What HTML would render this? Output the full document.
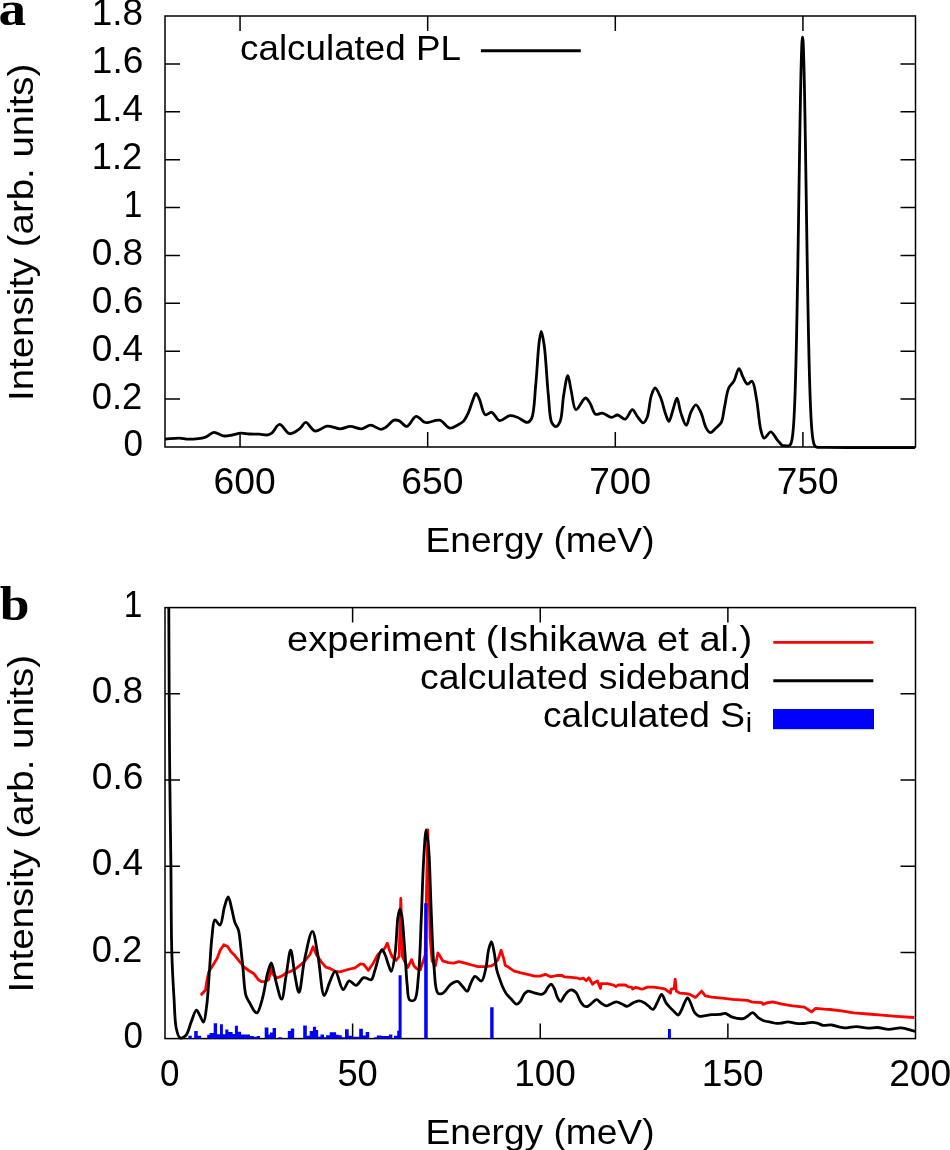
<!DOCTYPE html>
<html><head><meta charset="utf-8"><style>
html,body{margin:0;padding:0;background:#fff;}
svg{display:block;will-change:transform;}
text{font-family:"Liberation Sans",sans-serif;fill:#000;font-kerning:none;}
.serif{font-family:"Liberation Serif",serif;font-weight:bold;}
</style></head><body>
<svg width="950" height="1150" viewBox="0 0 950 1150">
<rect width="950" height="1150" fill="#fff"/>
<rect x="165.0" y="16.0" width="750.50" height="431.0" fill="none" stroke="#000" stroke-width="1.5"/>
<path d="M165.0,399.11h15.0M915.5,399.11h-15.0M165.0,351.22h15.0M915.5,351.22h-15.0M165.0,303.33h15.0M915.5,303.33h-15.0M165.0,255.44h15.0M915.5,255.44h-15.0M165.0,207.56h15.0M915.5,207.56h-15.0M165.0,159.67h15.0M915.5,159.67h-15.0M165.0,111.78h15.0M915.5,111.78h-15.0M165.0,63.89h15.0M915.5,63.89h-15.0M240.05,447.0v-15.0M240.05,16.0v15.0M427.68,447.0v-15.0M427.68,16.0v15.0M615.30,447.0v-15.0M615.30,16.0v15.0M802.92,447.0v-15.0M802.92,16.0v15.0" stroke="#000" stroke-width="1.5" fill="none"/>
<rect x="165.0" y="607.6" width="750.50" height="430.9999999999999" fill="none" stroke="#000" stroke-width="1.5"/>
<path d="M165.0,952.40h15.0M915.5,952.40h-15.0M165.0,866.20h15.0M915.5,866.20h-15.0M165.0,780.00h15.0M915.5,780.00h-15.0M165.0,693.80h15.0M915.5,693.80h-15.0M352.62,1038.6v-15.0M352.62,607.6v15.0M540.25,1038.6v-15.0M540.25,607.6v15.0M727.88,1038.6v-15.0M727.88,607.6v15.0" stroke="#000" stroke-width="1.5" fill="none"/>
<clipPath id="ca"><rect x="165.0" y="16.0" width="750.5" height="434.0"/></clipPath>
<path clip-path="url(#ca)" d="M163,439.2 L165.05,439.10 C169.83,438.77 175.15,437.99 179.40,438.10 C182.81,438.18 185.07,439.21 188.60,439.20 C193.38,439.19 200.96,438.61 205.50,437.10 C208.92,435.96 210.97,432.52 213.90,432.30 C216.87,432.08 220.06,435.47 223.20,435.90 C226.23,436.31 229.42,435.46 232.40,435.00 C235.28,434.55 237.98,433.37 240.80,433.20 C243.61,433.03 246.34,433.83 249.30,434.00 C252.52,434.18 256.19,434.03 259.40,434.20 C262.33,434.35 265.53,435.34 267.80,434.90 C269.49,434.57 270.51,433.93 272.00,432.80 C274.32,431.04 276.82,424.53 279.60,424.40 C282.66,424.26 286.15,433.21 289.70,433.70 C292.92,434.15 297.02,430.66 299.80,428.60 C302.21,426.81 303.46,422.48 305.70,422.40 C308.43,422.31 311.58,430.39 315.10,431.00 C318.61,431.61 323.65,426.51 326.80,426.10 C328.81,425.84 330.00,426.43 331.90,426.80 C334.36,427.28 337.37,428.90 340.30,428.90 C343.51,428.90 346.96,426.43 350.40,426.40 C353.98,426.37 357.94,429.19 361.40,428.90 C364.65,428.63 367.46,425.10 370.60,425.10 C373.89,425.10 377.90,429.27 380.70,429.30 C382.68,429.32 383.99,428.38 385.80,427.30 C388.37,425.77 391.59,420.96 394.20,420.20 C395.99,419.68 397.53,420.18 399.30,420.90 C401.68,421.86 404.28,426.65 406.80,426.40 C409.87,426.10 412.93,416.64 416.10,416.30 C418.84,416.00 422.23,421.37 424.50,422.20 C425.81,422.68 426.43,422.58 427.90,422.50 C430.65,422.36 436.10,419.34 439.70,420.20 C443.42,421.09 446.45,427.63 449.80,428.10 C452.61,428.50 455.80,425.95 458.20,424.70 C460.17,423.68 461.77,423.01 463.30,421.40 C465.28,419.32 466.91,415.82 468.40,412.60 C470.06,409.02 471.20,404.26 472.60,400.80 C473.73,397.99 474.81,393.36 476.00,393.30 C477.08,393.25 478.22,396.71 479.40,399.20 C481.25,403.09 482.51,413.44 485.30,414.70 C487.09,415.51 489.61,411.81 491.70,412.30 C494.41,412.93 496.58,420.16 499.60,420.70 C502.59,421.24 506.51,416.10 509.70,415.70 C512.35,415.36 514.65,416.37 517.30,417.30 C520.50,418.42 524.85,422.76 527.40,422.40 C529.21,422.14 530.44,420.77 531.60,418.50 C534.46,412.90 534.58,396.08 535.80,384.00 C537.15,370.68 537.89,351.19 539.20,341.90 C539.86,337.24 540.54,331.50 541.30,331.50 C542.18,331.50 543.31,339.22 544.20,345.30 C545.88,356.82 546.91,381.61 548.40,395.80 C549.49,406.18 549.36,417.94 551.80,422.70 C552.92,424.89 554.66,426.71 556.00,426.60 C557.47,426.47 559.08,423.81 560.20,421.10 C562.36,415.90 562.24,403.74 563.60,395.80 C564.82,388.67 566.45,375.61 567.80,375.60 C568.97,375.59 569.94,385.39 571.20,390.70 C572.61,396.65 573.23,408.99 575.90,409.60 C578.25,410.13 582.92,398.08 585.50,398.00 C587.15,397.95 588.32,400.52 589.70,402.50 C591.72,405.40 592.97,412.98 595.60,414.30 C597.49,415.25 599.93,412.81 602.30,413.10 C605.20,413.46 608.82,417.22 611.60,417.30 C613.80,417.36 615.52,414.86 617.60,415.00 C620.02,415.17 622.89,419.69 625.20,419.20 C627.91,418.62 630.29,409.58 632.40,409.60 C634.09,409.61 635.22,413.71 636.90,415.80 C638.77,418.13 641.40,422.99 643.20,422.90 C644.71,422.82 645.99,420.07 647.10,417.50 C649.13,412.79 649.50,400.92 651.30,395.60 C652.41,392.31 653.68,388.04 655.10,388.00 C656.70,387.95 658.91,393.64 660.50,397.30 C662.54,401.98 663.94,409.71 665.60,414.10 C666.72,417.05 667.79,421.35 668.90,421.30 C670.32,421.23 671.81,412.98 673.20,409.00 C674.51,405.26 675.82,398.05 677.00,398.10 C678.34,398.16 679.13,407.81 680.70,412.40 C682.24,416.90 684.61,425.46 686.30,425.40 C687.97,425.34 688.98,416.06 690.80,412.40 C692.29,409.42 694.21,404.79 695.90,404.80 C697.58,404.81 699.40,409.32 700.90,412.40 C702.89,416.50 704.00,424.03 706.00,427.60 C707.28,429.88 708.59,432.44 710.20,432.60 C711.93,432.77 714.26,429.59 716.10,427.90 C717.93,426.22 719.88,424.99 721.20,422.50 C723.10,418.91 723.34,412.75 724.50,407.40 C725.82,401.34 726.57,392.63 728.70,388.00 C730.09,384.99 732.25,384.01 733.80,381.30 C735.78,377.84 737.33,368.64 739.00,368.60 C740.38,368.56 741.56,374.44 743.00,377.10 C744.34,379.59 745.60,383.68 747.30,384.10 C748.69,384.44 750.70,380.76 752.00,381.30 C754.37,382.28 755.18,392.19 756.50,398.90 C758.21,407.62 758.89,422.25 760.70,429.30 C761.71,433.23 762.39,437.81 764.10,438.20 C765.80,438.59 768.80,431.64 770.90,431.80 C773.03,431.97 774.91,437.11 776.80,439.40 C778.43,441.38 780.74,443.87 781.50,444.80 C781.76,445.12 781.81,445.34 782.00,445.45 C782.15,445.53 782.33,445.48 782.50,445.50 C782.67,445.52 782.83,445.53 783.00,445.55 C783.17,445.57 783.33,445.58 783.50,445.60 C783.67,445.62 783.83,445.63 784.00,445.65 C784.17,445.66 784.33,445.68 784.50,445.70 C784.67,445.71 784.83,445.73 785.00,445.74 C785.17,445.76 785.33,445.78 785.50,445.79 C785.67,445.80 785.83,445.82 786.00,445.83 C786.17,445.84 786.33,445.86 786.50,445.87 C786.67,445.88 786.83,445.89 787.00,445.89 C787.17,445.89 787.33,445.90 787.50,445.90 C787.67,445.89 787.83,445.89 788.00,445.87 C788.17,445.85 788.33,445.83 788.50,445.80 C788.67,445.76 788.84,445.71 789.00,445.65 C789.17,445.58 789.34,445.49 789.50,445.38 C789.67,445.26 789.84,445.12 790.00,444.95 C790.18,444.75 790.34,444.52 790.50,444.26 C790.68,443.95 790.85,443.60 791.00,443.21 C791.18,442.75 791.35,442.22 791.50,441.65 C791.68,440.98 791.85,440.23 792.00,439.41 C792.18,438.45 792.34,437.39 792.50,436.25 C792.68,434.91 792.84,433.45 793.00,431.88 C793.18,430.07 793.34,428.10 793.50,426.00 C793.68,423.59 793.84,420.99 794.00,418.24 C794.18,415.12 794.34,411.76 794.50,408.23 C794.68,404.27 794.84,400.03 795.00,395.60 C795.18,390.68 795.34,385.46 795.50,380.02 C795.68,374.06 795.84,367.76 796.00,361.25 C796.17,354.18 796.34,346.77 796.50,339.15 C796.67,330.98 796.84,322.47 797.00,313.78 C797.17,304.58 797.34,295.05 797.50,285.39 C797.67,275.30 797.84,264.92 798.00,254.47 C798.17,243.72 798.33,232.73 798.50,221.77 C798.67,210.67 798.83,199.40 799.00,188.27 C799.17,177.20 799.33,166.05 799.50,155.16 C799.66,144.56 799.83,133.96 800.00,123.76 C800.16,114.09 800.33,104.50 800.50,95.47 C800.66,87.18 800.82,79.03 801.00,71.61 C801.16,65.13 801.31,58.79 801.50,53.39 C801.65,49.06 801.77,44.68 802.00,41.71 C802.14,39.86 802.31,37.24 802.50,37.24 C802.65,37.23 802.86,38.92 803.00,40.22 C803.26,42.62 803.35,46.64 803.50,50.50 C803.69,55.46 803.84,61.43 804.00,67.52 C804.18,74.58 804.34,82.41 804.50,90.39 C804.68,99.15 804.84,108.50 805.00,117.95 C805.17,127.97 805.34,138.42 805.50,148.89 C805.67,159.69 805.83,170.79 806.00,181.82 C806.17,192.95 806.33,204.25 806.50,215.39 C806.67,226.43 806.83,237.52 807.00,248.38 C807.16,258.98 807.33,269.52 807.50,279.77 C807.66,289.63 807.83,299.36 808.00,308.77 C808.16,317.69 808.33,326.43 808.50,334.82 C808.66,342.68 808.83,350.33 809.00,357.63 C809.16,364.39 809.33,370.92 809.50,377.12 C809.66,382.78 809.82,388.23 810.00,393.37 C810.16,398.01 810.32,402.45 810.50,406.62 C810.66,410.33 810.82,413.87 811.00,417.17 C811.16,420.08 811.32,422.84 811.50,425.40 C811.66,427.63 811.82,429.74 812.00,431.68 C812.16,433.36 812.32,434.93 812.50,436.37 C812.66,437.60 812.82,438.75 813.00,439.80 C813.16,440.69 813.32,441.51 813.50,442.26 C813.65,442.89 813.82,443.47 814.00,443.98 C814.15,444.42 814.32,444.82 814.50,445.17 C814.66,445.47 814.82,445.74 815.00,445.97 C815.16,446.18 815.32,446.35 815.50,446.50 C815.66,446.64 815.83,446.75 816.00,446.85 C816.16,446.94 816.33,447.00 816.50,447.06 C816.66,447.12 816.83,447.16 817.00,447.20 C817.17,447.24 817.33,447.26 817.50,447.28 C817.67,447.31 817.83,447.32 818.00,447.33 C818.17,447.35 818.33,447.35 818.50,447.36 C818.67,447.37 818.83,447.37 819.00,447.38 C819.17,447.38 819.33,447.39 819.50,447.39 C819.67,447.39 819.83,447.39 820.00,447.39 C820.17,447.40 820.33,447.40 820.50,447.40 C820.67,447.40 820.83,447.40 821.00,447.40 C821.17,447.40 821.33,447.40 821.50,447.40 C821.67,447.40 821.83,447.40 822.00,447.40 C822.17,447.40 822.33,447.40 822.50,447.40 C822.67,447.40 822.83,447.40 823.00,447.40 C823.17,447.40 823.33,447.40 823.50,447.40 C823.67,447.40 823.70,447.40 824.00,447.40 C826.53,447.41 846.76,447.56 860.00,447.60 C876.29,447.65 896.33,447.60 914.50,447.60" fill="none" stroke="#000" stroke-width="2.8" stroke-linejoin="round" stroke-linecap="round"/>
<path d="M200.80,995.30 L205.50,990.00 L206.60,982.60 L208.70,972.10 L212.90,965.30 L217.10,958.40 L220.30,950.00 L223.90,944.70 L227.60,946.60 L230.80,951.60 L235.00,955.80 L239.20,961.10 L244.50,967.40 L248.70,970.50 L253.90,973.70 L258.20,979.50 L261.30,981.60 L265.50,981.60 L268.70,979.50 L270.60,971.10 L271.50,965.00 L272.90,974.20 L277.10,977.90 L281.30,976.30 L286.60,972.60 L290.80,971.30 L295.80,968.70 L303.70,962.40 L310.00,954.50 L313.10,946.80 L316.30,954.50 L321.10,961.60 L325.80,967.10 L330.50,968.70 L335.30,971.40 L340.00,971.80 L347.90,969.50 L355.00,967.90 L360.50,963.90 L363.70,964.40 L368.40,970.30 L373.20,963.20 L377.90,954.50 L382.60,950.20 L385.00,947.90 L387.30,943.20 L389.70,951.00 L392.40,957.30 L396.00,960.40 L399.10,956.50 L400.80,898.50 L402.40,956.50 L403.80,959.60 L407.70,967.50 L411.60,959.60 L414.00,965.90 L417.10,969.00 L420.30,969.70 L425.20,955.00 L427.80,829.80 L430.10,937.40 L432.10,960.90 L435.40,965.80 L437.90,953.00 L440.00,956.10 L442.60,960.80 L448.40,962.70 L453.70,963.10 L458.90,961.60 L465.30,963.10 L471.60,965.00 L477.90,966.60 L484.20,966.60 L491.60,965.80 L494.70,963.90 L497.90,959.70 L501.10,950.30 L503.70,958.70 L505.30,965.50 L508.40,967.10 L513.70,970.80 L520.00,972.60 L527.40,974.30 L534.70,976.10 L540.00,976.10 L545.30,974.30 L550.50,976.80 L556.80,975.50 L562.10,975.50 L564.20,976.80 L571.60,977.40 L577.90,978.20 L580.00,979.00 L583.20,978.20 L586.30,980.60 L588.90,977.80 L592.60,984.30 L594.20,982.70 L597.40,981.00 L600.50,988.40 L601.10,983.70 L607.40,983.70 L613.70,985.20 L615.80,986.60 L618.40,984.80 L625.30,985.00 L628.40,986.90 L631.60,987.10 L632.60,989.00 L635.80,987.30 L640.00,988.70 L642.10,989.20 L647.40,987.10 L653.70,987.10 L658.90,987.90 L664.70,988.90 L670.50,993.20 L671.10,989.20 L674.10,988.70 L675.20,979.20 L676.30,991.10 L680.00,993.20 L686.30,993.70 L690.50,994.70 L695.60,997.40 L701.60,991.10 L705.30,995.80 L711.60,997.20 L722.10,998.20 L732.60,999.30 L740.00,999.90 L747.40,1000.40 L752.60,1002.20 L761.90,1002.60 L763.20,1004.40 L766.30,1003.00 L772.60,1001.90 L782.10,1004.20 L792.60,1005.80 L804.40,1007.10 L811.50,1011.90 L815.70,1008.40 L824.20,1009.20 L830.00,1009.50 L841.40,1010.90 L853.70,1012.80 L867.90,1014.00 L882.10,1015.20 L896.30,1016.30 L914.30,1017.50" fill="none" stroke="#ff0000" stroke-width="2.8" stroke-linejoin="round"/>
<clipPath id="cb"><rect x="165.0" y="607.6" width="750.5" height="433.9999999999999"/></clipPath>
<path clip-path="url(#cb)" d="M168.7,600 L168.8,607.6 C168.93,638.40 169.02,670.31 169.20,700.00 C169.36,727.63 169.52,752.85 169.80,780.00 C170.09,808.15 170.57,837.33 170.90,866.00 C171.23,894.67 171.09,927.79 171.80,952.00 C172.32,969.72 173.13,984.18 174.00,998.00 C174.71,1009.36 174.69,1021.88 176.40,1029.00 C177.35,1032.96 178.23,1037.17 180.10,1037.90 C181.64,1038.50 184.35,1036.94 186.00,1035.20 C188.44,1032.62 189.42,1026.18 191.20,1021.90 C192.89,1017.83 194.70,1010.22 196.40,1010.10 C197.65,1010.01 198.92,1013.99 200.10,1016.00 C201.29,1018.02 202.54,1022.35 203.50,1022.20 C204.98,1021.97 205.81,1012.14 206.70,1005.60 C207.96,996.31 208.53,982.93 209.40,971.60 C210.27,960.27 210.75,947.08 211.90,937.60 C212.73,930.72 212.88,920.53 214.90,919.90 C216.19,919.50 218.60,925.49 220.00,925.10 C222.27,924.47 222.90,911.72 224.50,906.60 C225.68,902.84 227.03,896.95 228.20,897.00 C229.52,897.05 230.80,905.39 231.90,909.60 C232.99,913.76 233.56,918.42 234.80,922.10 C235.84,925.18 237.56,927.02 238.50,930.30 C239.77,934.72 240.00,940.67 240.70,946.50 C241.52,953.31 242.18,960.97 243.00,968.70 C243.90,977.17 244.13,989.28 245.90,995.30 C246.88,998.65 248.22,1000.14 249.60,1002.70 C251.15,1005.55 253.21,1010.03 254.80,1011.60 C255.60,1012.39 256.34,1013.18 257.10,1012.90 C258.97,1012.21 260.99,1003.59 262.60,997.90 C264.62,990.75 265.81,979.63 267.60,973.20 C268.78,968.94 270.08,962.74 271.30,962.80 C272.93,962.88 274.33,975.89 276.10,982.10 C277.78,988.00 280.00,999.30 281.60,999.20 C283.50,999.08 284.77,982.45 286.30,974.20 C287.80,966.12 289.27,950.19 290.70,950.20 C292.17,950.21 293.45,968.21 295.00,975.80 C296.26,981.95 297.67,992.45 299.00,992.40 C300.84,992.34 302.19,970.42 304.50,960.00 C306.70,950.09 310.09,931.25 312.40,931.30 C314.50,931.35 316.15,946.24 317.90,955.30 C320.14,966.95 321.49,995.18 324.20,995.50 C325.82,995.69 327.76,986.27 329.70,982.10 C331.47,978.29 333.35,971.33 335.30,971.40 C337.80,971.49 340.51,989.45 343.20,989.70 C345.17,989.88 346.87,981.27 349.20,980.80 C351.24,980.39 353.84,985.54 356.10,985.30 C358.68,985.03 360.94,978.45 363.70,977.70 C366.06,977.06 369.48,980.62 371.30,979.70 C373.27,978.70 373.42,974.63 374.70,971.10 C376.70,965.59 379.60,950.00 381.80,949.70 C382.91,949.55 384.03,952.51 385.00,954.50 C386.35,957.25 387.33,961.95 388.50,965.00 C389.43,967.42 390.42,971.49 391.30,971.40 C392.75,971.25 394.17,959.88 395.20,952.60 C396.60,942.73 396.69,925.01 397.90,917.40 C398.49,913.68 399.21,909.21 399.90,909.20 C400.52,909.19 401.26,912.94 401.80,915.80 C402.75,920.83 403.18,929.48 403.80,937.00 C404.50,945.52 405.10,955.83 405.70,964.30 C406.22,971.68 406.47,978.67 407.20,985.00 C407.83,990.42 407.48,998.19 409.60,1000.00 C410.81,1001.03 413.19,1001.11 414.50,1000.00 C417.38,997.56 417.37,986.13 418.40,976.50 C420.02,961.37 420.42,937.37 421.30,917.80 C422.18,898.24 422.68,875.29 423.70,859.10 C424.42,847.64 425.26,829.82 426.20,829.80 C426.96,829.78 428.00,841.03 428.70,849.30 C429.91,863.59 430.22,888.44 431.10,908.00 C431.98,927.57 432.46,951.00 434.00,966.70 C435.04,977.30 434.84,990.55 437.90,993.20 C439.21,994.33 441.14,993.94 442.80,993.20 C445.38,992.04 447.93,986.29 450.70,984.30 C452.88,982.73 455.53,981.02 457.50,981.40 C459.41,981.77 460.77,984.67 462.40,986.30 C464.03,987.93 465.97,991.45 467.30,991.20 C468.71,990.94 469.26,986.40 470.50,984.00 C471.81,981.46 473.10,976.81 475.00,976.40 C476.81,976.01 479.78,981.57 481.50,981.00 C483.82,980.23 484.85,972.08 486.00,967.20 C487.25,961.90 487.39,954.97 488.50,950.30 C489.32,946.88 490.48,941.56 491.40,941.60 C492.47,941.64 493.54,949.34 494.40,953.70 C495.39,958.71 495.75,965.49 496.80,970.00 C497.57,973.30 498.54,975.61 499.50,978.40 C500.47,981.21 501.42,984.18 502.60,986.80 C503.70,989.25 504.84,991.64 506.30,993.70 C507.69,995.65 509.40,997.19 511.10,998.90 C512.89,1000.69 515.09,1004.16 516.80,1004.20 C518.15,1004.23 519.38,1002.47 520.50,1001.10 C521.92,999.35 522.78,995.95 524.20,994.20 C525.32,992.83 526.40,991.42 527.90,991.10 C529.64,990.73 532.00,992.36 534.20,992.90 C536.56,993.47 539.71,994.71 541.60,994.40 C542.91,994.19 543.76,993.52 544.70,992.60 C545.93,991.40 546.74,988.87 547.90,987.40 C548.90,986.14 550.08,984.12 551.10,984.20 C552.19,984.28 553.27,986.65 554.20,988.40 C555.46,990.76 556.13,995.08 557.40,997.40 C558.33,999.09 559.41,1001.43 560.50,1001.40 C561.82,1001.36 563.29,997.11 564.70,995.30 C565.93,993.73 567.03,991.98 568.40,991.10 C569.54,990.37 570.87,989.81 572.10,990.00 C573.51,990.22 575.06,991.45 576.30,992.90 C578.00,994.89 578.92,999.23 580.50,1001.60 C581.78,1003.51 583.21,1005.68 584.70,1006.30 C585.81,1006.76 587.08,1006.54 588.20,1006.10 C589.53,1005.58 590.66,1004.03 592.00,1003.00 C593.44,1001.89 595.09,999.68 596.60,999.70 C598.09,999.72 599.44,1001.99 601.00,1003.00 C602.60,1004.03 604.39,1005.67 606.10,1005.80 C607.72,1005.92 609.32,1004.64 611.00,1004.00 C612.81,1003.31 614.75,1001.79 616.60,1001.80 C618.42,1001.81 620.23,1003.24 622.00,1004.00 C623.73,1004.74 625.36,1006.38 627.10,1006.30 C629.02,1006.22 631.02,1003.93 633.00,1003.00 C634.89,1002.11 636.83,1000.87 638.70,1000.80 C640.46,1000.74 642.29,1001.56 643.90,1002.40 C645.57,1003.27 646.98,1004.82 648.50,1006.00 C649.98,1007.15 651.54,1009.65 652.90,1009.40 C654.63,1009.09 656.13,1004.33 657.60,1001.80 C659.02,999.36 660.23,994.49 661.60,994.50 C663.06,994.51 664.63,1000.72 666.10,1002.90 C667.15,1004.45 668.06,1005.35 669.20,1006.60 C670.47,1007.98 671.93,1009.42 673.40,1010.80 C674.92,1012.23 676.84,1015.18 678.20,1015.00 C679.52,1014.82 680.55,1011.79 681.50,1010.00 C682.49,1008.13 683.01,1005.97 684.00,1004.00 C685.03,1001.94 686.46,997.91 687.60,997.90 C688.61,997.89 689.52,1000.70 690.50,1002.60 C691.87,1005.27 692.88,1010.23 694.70,1012.60 C696.06,1014.37 697.81,1015.82 699.50,1016.30 C700.99,1016.72 702.46,1016.02 704.20,1015.80 C706.39,1015.52 709.05,1014.93 711.60,1014.70 C714.30,1014.45 717.53,1014.68 720.00,1014.40 C721.98,1014.18 723.51,1013.12 725.30,1013.40 C727.37,1013.72 729.10,1015.96 731.60,1016.80 C734.81,1017.88 740.36,1019.10 743.20,1018.60 C745.02,1018.28 745.95,1017.21 747.40,1016.30 C749.07,1015.25 750.90,1012.50 752.60,1012.60 C754.40,1012.71 756.06,1016.05 757.90,1017.40 C759.60,1018.65 761.16,1019.69 763.20,1020.50 C765.62,1021.45 769.13,1021.88 771.60,1022.40 C773.54,1022.81 775.14,1023.30 776.80,1023.40 C778.30,1023.49 779.52,1023.31 781.10,1023.10 C783.09,1022.84 785.44,1021.80 787.80,1021.80 C790.44,1021.80 793.46,1023.12 796.20,1023.40 C798.79,1023.66 801.21,1023.67 803.80,1023.50 C806.54,1023.32 809.75,1022.28 812.20,1022.30 C814.11,1022.31 815.56,1022.63 817.30,1023.10 C819.22,1023.62 821.02,1025.04 823.20,1025.40 C825.71,1025.81 828.82,1024.72 831.60,1025.00 C834.42,1025.28 837.67,1026.59 840.00,1027.10 C841.63,1027.46 842.43,1027.82 844.20,1027.90 C847.22,1028.04 852.48,1026.63 856.50,1026.70 C860.38,1026.77 864.27,1028.10 867.90,1028.20 C871.21,1028.29 874.11,1027.35 877.40,1027.50 C881.01,1027.67 884.85,1029.31 888.70,1029.40 C892.71,1029.49 896.84,1027.66 901.00,1027.90 C905.37,1028.15 909.87,1030.03 914.30,1031.10" fill="none" stroke="#000" stroke-width="2.8" stroke-linejoin="round" stroke-linecap="round"/>
<path d="M188.40,1038.6V1035.80H191.80V1038.6ZM194.20,1038.6V1031.10H197.70V1038.6ZM197.70,1038.6V1035.80H201.10V1038.6ZM207.20,1038.6V1034.70H209.50V1038.6ZM209.50,1038.6V1033.00H213.70V1038.6ZM213.70,1038.6V1023.20H217.10V1038.6ZM217.10,1038.6V1034.20H220.00V1038.6ZM220.00,1038.6V1024.20H222.90V1038.6ZM222.90,1038.6V1034.20H225.30V1038.6ZM225.30,1038.6V1029.50H228.40V1038.6ZM228.40,1038.6V1032.10H232.60V1038.6ZM232.60,1038.6V1034.00H234.90V1038.6ZM234.90,1038.6V1025.80H237.90V1038.6ZM237.90,1038.6V1031.80H241.10V1038.6ZM241.10,1038.6V1034.40H250.00V1038.6ZM250.00,1038.6V1036.10H253.70V1038.6ZM253.70,1038.6V1036.80H256.80V1038.6ZM256.80,1038.6V1036.10H260.00V1038.6ZM264.70,1038.6V1027.40H268.40V1038.6ZM268.40,1038.6V1034.40H270.00V1038.6ZM270.00,1038.6V1032.60H272.60V1038.6ZM272.60,1038.6V1028.10H276.00V1038.6ZM278.20,1038.6V1037.20H281.80V1038.6ZM287.80,1038.6V1031.10H290.80V1038.6ZM290.80,1038.6V1028.40H294.20V1038.6ZM303.20,1038.6V1025.60H306.80V1038.6ZM306.80,1038.6V1035.80H309.70V1038.6ZM309.70,1038.6V1031.10H312.90V1038.6ZM312.90,1038.6V1026.80H316.10V1038.6ZM316.10,1038.6V1030.00H318.20V1038.6ZM318.20,1038.6V1036.80H320.50V1038.6ZM320.50,1038.6V1034.40H324.00V1038.6ZM324.00,1038.6V1037.20H326.10V1038.6ZM326.10,1038.6V1035.30H329.70V1038.6ZM329.70,1038.6V1032.30H336.10V1038.6ZM336.10,1038.6V1034.70H338.70V1038.6ZM338.70,1038.6V1035.30H341.80V1038.6ZM341.80,1038.6V1037.20H345.00V1038.6ZM345.00,1038.6V1029.30H348.70V1038.6ZM348.70,1038.6V1035.80H352.40V1038.6ZM352.40,1038.6V1036.80H359.20V1038.6ZM359.20,1038.6V1028.70H362.90V1038.6ZM362.90,1038.6V1035.60H365.70V1038.6ZM365.70,1038.6V1032.10H369.20V1038.6ZM374.20,1038.6V1037.20H376.80V1038.6ZM376.80,1038.6V1035.60H381.60V1038.6ZM381.60,1038.6V1036.10H388.90V1038.6ZM388.90,1038.6V1034.40H392.30V1038.6ZM394.00,1038.6V1035.80H397.20V1038.6ZM397.20,1038.6V1030.80H398.60V1038.6ZM398.60,1038.6V975.20H401.60V1038.6ZM424.20,1038.6V903.20H427.70V1038.6ZM490.20,1038.6V1007.20H493.60V1038.6ZM668.00,1038.6V1028.90H670.90V1038.6Z" fill="#0000ff"/>
<path d="M480.9,50.7H580.8" stroke="#000" stroke-width="3"/>
<path d="M773.3,642.3H873.3" stroke="#ff0000" stroke-width="2.8"/>
<path d="M773.3,680.8H873.3" stroke="#000" stroke-width="2.9"/>
<rect x="773" y="709" width="101" height="20.2" fill="#0000ff"/>
<text x="123.50" y="456.40" font-size="36.0" textLength="19.46" lengthAdjust="spacingAndGlyphs">0</text>
<text x="91.77" y="408.51" font-size="36.0" textLength="50.54" lengthAdjust="spacingAndGlyphs">0.2</text>
<text x="91.75" y="360.62" font-size="36.0" textLength="51.27" lengthAdjust="spacingAndGlyphs">0.4</text>
<text x="91.74" y="312.73" font-size="36.0" textLength="51.60" lengthAdjust="spacingAndGlyphs">0.6</text>
<text x="91.75" y="264.84" font-size="36.0" textLength="51.39" lengthAdjust="spacingAndGlyphs">0.8</text>
<text x="123.78" y="216.96" font-size="36.0" textLength="18.59" lengthAdjust="spacingAndGlyphs">1</text>
<text x="91.89" y="169.07" font-size="36.0" textLength="50.41" lengthAdjust="spacingAndGlyphs">1.2</text>
<text x="91.84" y="121.18" font-size="36.0" textLength="51.17" lengthAdjust="spacingAndGlyphs">1.4</text>
<text x="91.83" y="73.29" font-size="36.0" textLength="51.51" lengthAdjust="spacingAndGlyphs">1.6</text>
<text x="91.84" y="25.40" font-size="36.0" textLength="51.30" lengthAdjust="spacingAndGlyphs">1.8</text>
<text x="123.50" y="1047.70" font-size="36.0" textLength="19.46" lengthAdjust="spacingAndGlyphs">0</text>
<text x="91.77" y="961.50" font-size="36.0" textLength="50.54" lengthAdjust="spacingAndGlyphs">0.2</text>
<text x="91.75" y="875.30" font-size="36.0" textLength="51.27" lengthAdjust="spacingAndGlyphs">0.4</text>
<text x="91.74" y="789.10" font-size="36.0" textLength="51.60" lengthAdjust="spacingAndGlyphs">0.6</text>
<text x="91.75" y="702.90" font-size="36.0" textLength="51.39" lengthAdjust="spacingAndGlyphs">0.8</text>
<text x="123.78" y="616.70" font-size="36.0" textLength="18.59" lengthAdjust="spacingAndGlyphs">1</text>
<text x="213.59" y="493.90" font-size="36.0" textLength="62.19" lengthAdjust="spacingAndGlyphs">600</text>
<text x="401.22" y="493.90" font-size="36.0" textLength="62.19" lengthAdjust="spacingAndGlyphs">650</text>
<text x="589.24" y="493.90" font-size="36.0" textLength="61.79" lengthAdjust="spacingAndGlyphs">700</text>
<text x="776.87" y="493.90" font-size="36.0" textLength="61.79" lengthAdjust="spacingAndGlyphs">750</text>
<text x="160.06" y="1085.80" font-size="36.0" textLength="19.46" lengthAdjust="spacingAndGlyphs">0</text>
<text x="337.41" y="1085.80" font-size="36.0" textLength="40.35" lengthAdjust="spacingAndGlyphs">50</text>
<text x="514.19" y="1085.80" font-size="36.0" textLength="61.78" lengthAdjust="spacingAndGlyphs">100</text>
<text x="701.82" y="1085.80" font-size="36.0" textLength="61.78" lengthAdjust="spacingAndGlyphs">150</text>
<text x="889.18" y="1085.80" font-size="36.0" textLength="62.06" lengthAdjust="spacingAndGlyphs">200</text>
<text x="425.56" y="552.40" font-size="35.0" textLength="228.95" lengthAdjust="spacingAndGlyphs">Energy (meV)</text>
<text x="425.56" y="1143.70" font-size="35.0" textLength="228.95" lengthAdjust="spacingAndGlyphs">Energy (meV)</text>
<text x="240.04" y="59.50" font-size="35.0" textLength="220.99" lengthAdjust="spacingAndGlyphs">calculated PL</text>
<text x="287.08" y="650.90" font-size="35.0" textLength="465.18" lengthAdjust="spacingAndGlyphs">experiment (Ishikawa et al.)</text>
<text x="420.01" y="689.20" font-size="35.0" textLength="330.60" lengthAdjust="spacingAndGlyphs">calculated sideband</text>
<text x="543.03" y="727.10" font-size="35.0" textLength="201.98" lengthAdjust="spacingAndGlyphs">calculated S</text>
<text transform="translate(32.70,397.50) rotate(-90)" x="-3.55" y="0" font-size="35.0" textLength="337.43" lengthAdjust="spacingAndGlyphs">Intensity (arb. units)</text>
<text transform="translate(32.70,989.00) rotate(-90)" x="-3.55" y="0" font-size="35.0" textLength="337.53" lengthAdjust="spacingAndGlyphs">Intensity (arb. units)</text>
<text x="-1.48" y="24.80" font-size="48" textLength="27.62" lengthAdjust="spacingAndGlyphs" class="serif">a</text>
<text x="-0.38" y="620.00" font-size="48" textLength="29.75" lengthAdjust="spacingAndGlyphs" class="serif">b</text>
<text x="749.0" y="732.4" font-size="28.5" text-anchor="middle">i</text>
</svg></body></html>
